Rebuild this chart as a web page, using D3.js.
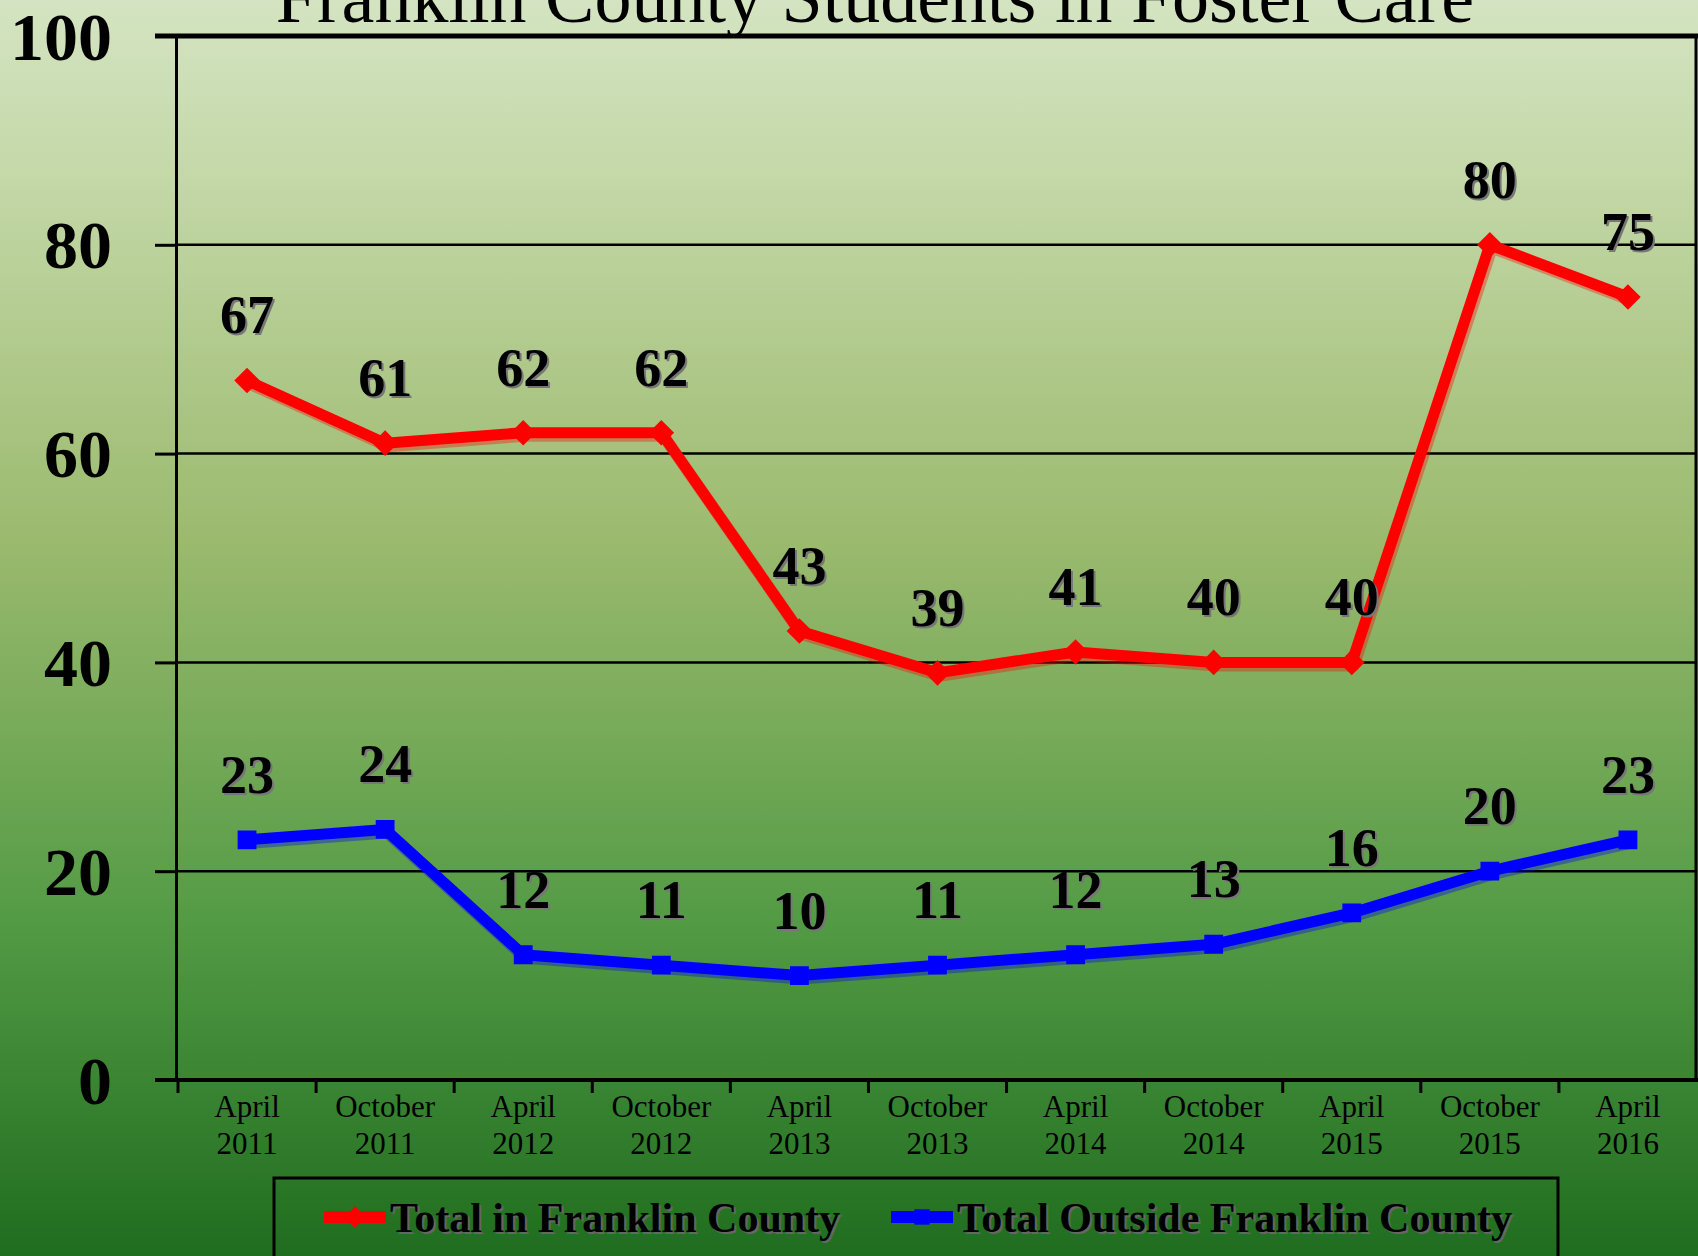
<!DOCTYPE html>
<html>
<head>
<meta charset="utf-8">
<script src="https://cdn.jsdelivr.net/npm/d3@7"></script>
<style>
  html, body { margin: 0; padding: 0; background: #fff; }
  svg { display: block; }
  text { font-family: "Liberation Serif", "Times New Roman", serif; }
</style>
</head>
<body>
<svg id="chart" width="1698" height="1256"></svg>
<script>
// ---- data ----
const categories = ["April 2011", "October 2011", "April 2012", "October 2012", "April 2013",
  "October 2013", "April 2014", "October 2014", "April 2015", "October 2015", "April 2016"];
const totalInFranklin = [67, 61, 62, 62, 43, 39, 41, 40, 40, 80, 75];
const totalOutsideFranklin = [23, 24, 12, 11, 10, 11, 12, 13, 16, 20, 23];
const yTicks = [0, 20, 40, 60, 80, 100];
const seriesNames = ["Total in Franklin County", "Total Outside Franklin County"];
const titleText = "Franklin County Students in Foster Care";

// ---- layout ----
const W = 1698, H = 1256;
const plot = { left: 178, right: 1697, top: 36, bottom: 1080 };
const svg = d3.select("#chart");

// background gradient
const defs = svg.append("defs");
const grad = defs.append("linearGradient").attr("id", "bg").attr("x1", 0).attr("y1", 0).attr("x2", 0).attr("y2", 1);
[[0, "#d4e4c2"], [0.14, "#c4d8a8"], [0.43, "#9bba6e"], [0.73, "#549b45"], [1, "#1f6d1f"]]
  .forEach(([o, c]) => grad.append("stop").attr("offset", o).attr("stop-color", c));
svg.append("rect").attr("width", W).attr("height", H).attr("fill", "url(#bg)");

const x = d3.scaleBand().domain(categories).range([plot.left, plot.right]).padding(0);
const y = d3.scaleLinear().domain([0, 100]).range([plot.bottom, plot.top]);
const cx = d => x(d) + x.bandwidth() / 2;

// gridlines
svg.append("g").selectAll("line").data([20, 40, 60, 80]).join("line")
  .attr("x1", plot.left - 2).attr("x2", plot.right)
  .attr("y1", d => y(d)).attr("y2", d => y(d))
  .attr("stroke", "#000").attr("stroke-width", 2.5);
// top line (100)
svg.append("line").attr("x1", 155).attr("x2", W).attr("y1", y(100)).attr("y2", y(100))
  .attr("stroke", "#000").attr("stroke-width", 5);
// right border
svg.append("line").attr("x1", 1696).attr("x2", 1696).attr("y1", y(100)).attr("y2", y(0))
  .attr("stroke", "#000").attr("stroke-width", 3);

// y axis
const yAxis = svg.append("g").attr("transform", `translate(${plot.left - 2},0)`)
  .call(d3.axisLeft(y).tickValues(yTicks).tickSize(21).tickPadding(43).tickFormat(d3.format("d")));
yAxis.select(".domain").attr("stroke", "#000").attr("stroke-width", 3);
yAxis.selectAll(".tick line").attr("stroke", "#000").attr("stroke-width", 3);
yAxis.selectAll(".tick text").attr("fill", "#000")
  .style("font-family", "'Liberation Serif', serif").style("font-weight", "bold").style("font-size", "68px")
  .attr("dy", "0.34em");

// x axis line
svg.append("line").attr("x1", 155).attr("x2", W).attr("y1", y(0)).attr("y2", y(0))
  .attr("stroke", "#000").attr("stroke-width", 4);
// x ticks at band edges
const edges = categories.map(c => x(c)).concat([plot.right]).slice(0, categories.length + 1);
svg.append("g").selectAll("line").data(categories.map(c => x(c)).concat([x(categories[categories.length - 1]) + x.bandwidth()]).slice(0, 11)).join("line")
  .attr("x1", d => d).attr("x2", d => d).attr("y1", y(0)).attr("y2", y(0) + 13)
  .attr("stroke", "#000").attr("stroke-width", 3);

// x labels
const xl = svg.append("g").selectAll("text").data(categories).join("text")
  .attr("x", d => cx(d)).attr("text-anchor", "middle")
  .style("font-size", "31px").attr("fill", "#000");
xl.append("tspan").attr("x", d => cx(d)).attr("y", 1117).text(d => d.split(" ")[0]);
xl.append("tspan").attr("x", d => cx(d)).attr("y", 1154).text(d => d.split(" ")[1]);

// title
svg.append("text").attr("x", 875).attr("y", 22).attr("text-anchor", "middle")
  .style("font-size", "74px").attr("fill", "#000").text(titleText);

// lines
const line = d3.line().x((d, i) => cx(categories[i])).y(d => y(d));
function drawSeries(data, color, marker) {
  const g = svg.append("g");
  g.append("path").datum(data).attr("d", line).attr("fill", "none")
    .attr("stroke", color).attr("stroke-opacity", 0.35).attr("stroke-width", 12)
    .attr("transform", "translate(2,3)").attr("stroke-linejoin", "round");
  g.append("path").datum(data).attr("d", line).attr("fill", "none")
    .attr("stroke", color).attr("stroke-width", 11).attr("stroke-linejoin", "round");
  const sym = d3.symbol().type(marker === "diamond" ? d3.symbolDiamond2 : d3.symbolSquare2)
    .size(marker === "diamond" ? 330 : 360);
  g.selectAll("path.m").data(data).join("path").attr("class", "m")
    .attr("transform", (d, i) => `translate(${cx(categories[i])},${y(d)})${marker === "diamond" ? " rotate(0)" : ""}`)
    .attr("d", sym).attr("fill", color).attr("stroke", color).attr("stroke-width", 2);
}
drawSeries(totalInFranklin, "#ff0000", "diamond");
drawSeries(totalOutsideFranklin, "#0000ff", "square");

// data labels
function drawLabels(data) {
  const g = svg.append("g").style("font-size", "54px").style("font-weight", "bold")
    .attr("text-anchor", "middle");
  g.selectAll("text.s").data(data).join("text").attr("class", "s")
    .attr("x", (d, i) => cx(categories[i]) + 2).attr("y", d => y(d) - 66 + 2)
    .attr("dy", "0.35em").attr("fill", "#777").text(d => d);
  g.selectAll("text.t").data(data).join("text").attr("class", "t")
    .attr("x", (d, i) => cx(categories[i])).attr("y", d => y(d) - 66)
    .attr("dy", "0.35em").attr("fill", "#000").text(d => d);
}
drawLabels(totalInFranklin);
drawLabels(totalOutsideFranklin);

// legend
svg.append("rect").attr("x", 274).attr("y", 1178).attr("width", 1284).attr("height", 120)
  .attr("fill", "none").attr("stroke", "#000").attr("stroke-width", 3);
const legendItems = [
  { name: seriesNames[0], color: "#ff0000", marker: d3.symbolDiamond2, x0: 324 },
  { name: seriesNames[1], color: "#0000ff", marker: d3.symbolSquare2, x0: 891 }
];
const lg = svg.append("g");
legendItems.forEach(it => {
  lg.append("line").attr("x1", it.x0).attr("x2", it.x0 + 62).attr("y1", 1217).attr("y2", 1217)
    .attr("stroke", it.color).attr("stroke-width", 12);
  lg.append("path").attr("d", d3.symbol().type(it.marker).size(300)())
    .attr("transform", `translate(${it.x0 + 31},1217)`).attr("fill", it.color);
  lg.append("text").attr("x", it.x0 + 66 + 2).attr("y", 1217 + 2).attr("dy", "0.35em")
    .style("font-size", "42px").style("font-weight", "bold").attr("fill", "#666").text(it.name);
  lg.append("text").attr("x", it.x0 + 66).attr("y", 1217).attr("dy", "0.35em")
    .style("font-size", "42px").style("font-weight", "bold").attr("fill", "#000").text(it.name);
});
</script>
</body>
</html>
